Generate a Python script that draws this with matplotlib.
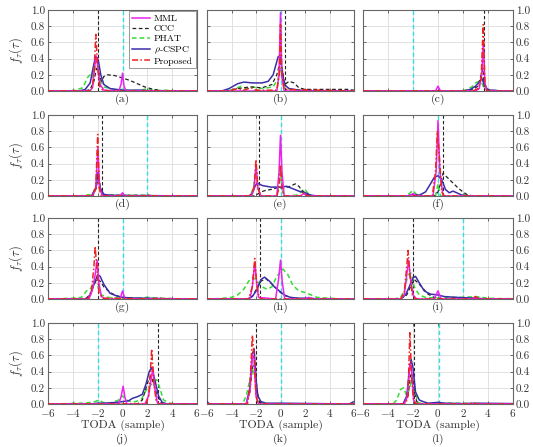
import matplotlib
matplotlib.use("Agg")
import matplotlib.pyplot as plt
import numpy as np

plt.rcParams['font.family'] = ['cmr10', 'DejaVu Serif']
plt.rcParams['mathtext.fontset'] = 'cm'
plt.rcParams['axes.formatter.use_mathtext'] = True
plt.rcParams['axes.unicode_minus'] = True

panels = ['a', 'b', 'c', 'd', 'e', 'f', 'g', 'h', 'i', 'j', 'k', 'l']
series_names = ['MML', 'CCC', 'PHAT', r'$\rho$-CSPC', 'Proposed']
x_ticks = [-6, -4, -2, 0, 2, 4, 6]
y_ticks = [0.0, 0.2, 0.4, 0.6, 0.8, 1.0]

true_tdoa = [-2.0, 0.33, 3.65, -1.67, -1.73, 0.37, -2.0, -1.7, -2.0, 2.85, -2.0, -1.95]
ref_tdoa = [0.0, 0.0, -2.0, 2.0, 0.0, 0.0, 0.0, 0.0, 2.0, -1.95, 0.0, 0.05]

# ---- panel (a)
a_mml = [(-6,0),(-2.6,0),(-2.4,0.05),(-2.25,0.3),(-2.1,0.43),(-1.95,0.25),(-1.8,0.08),(-1.5,0.01),(-0.3,0),(-0.12,0.08),(0,0.22),(0.12,0.06),(0.3,0),(6,0)]
a_ccc = [(-6,0),(-3,0),(-2.6,0.02),(-2.3,0.12),(-2.1,0.28),(-1.9,0.22),(-1.7,0.12),(-1.5,0.18),(-1.2,0.2),(-0.6,0.19),(0,0.16),(0.6,0.13),(1.2,0.09),(1.8,0.05),(2.5,0.02),(3.2,0.005),(6,0)]
a_phat = [(-6,0),(-4.5,0),(-3.8,0.01),(-3.2,0.04),(-2.8,0.17),(-2.6,0.2),(-2.4,0.17),(-2.2,0.3),(-2.05,0.38),(-1.85,0.15),(-1.5,0.05),(-1,0.03),(-0.5,0.01),(0,0.02),(0.5,0.005),(1.5,0.01),(2,0.03),(2.5,0.005),(3.5,0.01),(4.5,0),(6,0)]
a_cspc = [(-6,0),(-3.5,0),(-3,0.02),(-2.6,0.1),(-2.35,0.3),(-2.15,0.43),(-1.95,0.38),(-1.75,0.2),(-1.5,0.08),(-1,0.03),(0,0.01),(1.5,0.01),(2.5,0),(6,0)]
a_prop = [(-6,0),(-2.7,0),(-2.45,0.03),(-2.3,0.2),(-2.15,0.7),(-2.0,0.3),(-1.85,0.06),(-1.6,0.01),(-1,0),(6,0)]
# ---- panel (b)
b_mml = [(-6,0),(-0.3,0),(-0.12,0.2),(0,0.97),(0.1,0.2),(0.3,0),(6,0)]
b_ccc = [(-6,0),(-4.5,0),(-3.5,0.03),(-2.5,0.05),(-1.5,0.04),(-0.7,0.08),(-0.3,0.2),(-0.05,0.35),(0.15,0.25),(0.35,0.08),(0.7,0.12),(1.1,0.1),(1.5,0.04),(2,0.02),(3,0.02),(4.5,0.02),(5.5,0.02),(6,0.01)]
b_phat = [(-6,0),(-4.5,0),(-3.8,0.02),(-3.2,0.06),(-2.8,0.03),(-2.3,0.05),(-1.5,0.03),(-0.6,0.05),(-0.2,0.15),(0,0.3),(0.2,0.12),(0.5,0.03),(1.5,0.01),(3,0),(6,0)]
b_cspc = [(-6,0),(-4.8,0),(-4.2,0.03),(-3.5,0.09),(-3,0.11),(-2.3,0.1),(-1.5,0.1),(-1,0.12),(-0.6,0.2),(-0.2,0.42),(-0.05,0.44),(0.1,0.3),(0.3,0.08),(0.7,0.03),(1.5,0.01),(3,0),(6,0)]
b_prop = [(-6,0),(-4.2,0),(-3.5,0.03),(-3,0.01),(-2.4,0.04),(-2,0.01),(-0.3,0.01),(-0.1,0.2),(0,0.82),(0.12,0.2),(0.3,0.02),(6,0)]
# ---- panel (c)
c_mml = [(-6,0),(-0.2,0),(0,0.06),(0.2,0),(3.0,0),(3.3,0.03),(3.5,0.2),(3.62,0.6),(3.75,0.1),(3.9,0),(6,0)]
c_ccc = [(-6,0),(2.3,0),(2.8,0.02),(3.2,0.06),(3.45,0.2),(3.6,0.28),(3.7,0.05),(3.9,0.02),(4.5,0),(6,0)]
c_phat = [(-6,0),(1.5,0),(2.2,0.01),(2.7,0.05),(3.0,0.1),(3.3,0.12),(3.5,0.1),(3.7,0.03),(4.2,0),(6,0)]
c_cspc = [(-6,0),(2.0,0),(2.6,0.02),(3.0,0.06),(3.3,0.11),(3.5,0.16),(3.7,0.08),(4.0,0.01),(4.5,0.01),(5,0),(6,0)]
c_prop = [(-6,0),(2.8,0),(3.2,0.03),(3.45,0.15),(3.62,0.82),(3.75,0.1),(3.9,0),(6,0)]
# ---- panel (d)
d_mml = [(-6,0),(-2.4,0),(-2.15,0.1),(-1.98,0.6),(-1.85,0.1),(-1.6,0),(-0.2,0),(0,0.04),(0.2,0),(6,0)]
d_ccc = [(-6,0),(-2.4,0),(-2.1,0.1),(-1.95,0.3),(-1.8,0.1),(-1.5,0.01),(6,0)]
d_phat = [(-6,0),(-3.5,0),(-3,0.01),(-2.4,0.02),(-2.1,0.15),(-1.95,0.3),(-1.8,0.05),(-1.4,0.01),(0,0.01),(1.8,0.01),(2.0,0.02),(2.2,0.005),(3.5,0),(6,0)]
d_cspc = [(-6,0),(-2.5,0),(-2.15,0.1),(-1.97,0.28),(-1.8,0.1),(-1.5,0.02),(-1,0.01),(0,0.005),(2,0.005),(6,0)]
d_prop = [(-6,0),(-2.4,0),(-2.15,0.1),(-2.0,0.76),(-1.88,0.1),(-1.7,0),(1.8,0),(2,0.02),(2.2,0),(6,0)]
# ---- panel (e)
e_mml = [(-6,0),(-2.4,0),(-2.15,0.1),(-2.0,0.38),(-1.85,0.1),(-1.6,0),(-0.3,0),(-0.12,0.3),(0,0.75),(0.12,0.3),(0.3,0),(1.6,0),(1.9,0.03),(2.2,0),(6,0)]
e_ccc = [(-6,0),(-2.2,0),(-1.9,0.02),(-1.6,0.05),(-1.2,0.07),(-0.8,0.08),(-0.3,0.1),(0.3,0.1),(0.8,0.12),(1.2,0.15),(1.5,0.12),(1.8,0.06),(2.2,0.02),(2.6,0),(6,0)]
e_phat = [(-6,0),(-2.5,0),(-2.2,0.1),(-2.0,0.35),(-1.85,0.1),(-1.6,0),(-0.3,0),(-0.1,0.15),(0,0.35),(0.12,0.1),(0.3,0),(1.3,0.01),(1.7,0.05),(1.95,0.09),(2.2,0.04),(2.6,0),(6,0)]
e_cspc = [(-6,0),(-2.6,0),(-2.3,0.03),(-2.05,0.13),(-1.9,0.16),(-1.5,0.13),(-0.8,0.11),(0,0.11),(0.5,0.12),(1.0,0.09),(1.5,0.06),(2.0,0.04),(2.5,0.01),(3,0),(6,0)]
e_prop = [(-6,0),(-2.4,0),(-2.15,0.12),(-2.0,0.45),(-1.85,0.1),(-1.6,0),(-0.3,0),(-0.12,0.1),(0,0.38),(0.12,0.1),(0.3,0),(1.7,0),(1.9,0.04),(2.2,0),(6,0)]
# ---- panel (f)
f_mml = [(-6,0),(-2.3,0),(-2.0,0.03),(-1.7,0),(-0.4,0),(-0.15,0.3),(0,0.93),(0.15,0.3),(0.4,0),(6,0)]
f_ccc = [(-6,0),(-0.3,0),(0,0.05),(0.2,0.15),(0.4,0.28),(0.8,0.22),(1.2,0.16),(1.6,0.1),(2.0,0.05),(2.4,0.01),(3,0),(6,0)]
f_phat = [(-6,0),(-2.6,0),(-2.3,0.03),(-2.0,0.07),(-1.8,0.03),(-1.5,0),(-0.2,0),(0,0.15),(0.2,0),(1.8,0),(2.1,0.02),(2.4,0),(6,0)]
f_cspc = [(-6,0),(-2.5,0),(-2.0,0.02),(-1.5,0.01),(-1.0,0.05),(-0.6,0.15),(-0.3,0.23),(0,0.25),(0.3,0.2),(0.6,0.08),(0.9,0.04),(1.2,0.06),(1.5,0.04),(1.9,0.01),(2.5,0),(6,0)]
f_prop = [(-6,0),(-0.45,0),(-0.2,0.3),(-0.05,0.8),(0.1,0.5),(0.3,0.05),(0.5,0),(6,0)]
# ---- panel (g)
g_mml = [(-6,0),(-2.7,0),(-2.45,0.1),(-2.2,0.3),(-2.05,0.48),(-1.9,0.2),(-1.7,0.03),(-1.4,0),(-0.2,0),(0,0.1),(0.2,0),(6,0)]
g_ccc = [(-6,0),(-3,0),(-2.6,0.05),(-2.3,0.18),(-2.05,0.25),(-1.8,0.22),(-1.5,0.15),(-1.0,0.08),(-0.5,0.04),(0,0.02),(1,0.01),(2,0),(6,0)]
g_phat = [(-6,0),(-5,0.005),(-4,0.01),(-3.3,0.02),(-2.9,0.1),(-2.6,0.12),(-2.3,0.22),(-2.05,0.18),(-1.7,0.05),(-1.2,0.02),(0,0.01),(1,0.01),(2,0.02),(3,0.01),(4,0.005),(4.5,0),(6,0)]
g_cspc = [(-6,0),(-3,0),(-2.6,0.05),(-2.3,0.18),(-2.0,0.3),(-1.8,0.28),(-1.5,0.18),(-1.0,0.07),(-0.5,0.04),(0,0.02),(1,0.01),(2,0.01),(3,0.005),(6,0)]
g_prop = [(-6,0),(-2.8,0),(-2.5,0.1),(-2.3,0.4),(-2.2,0.65),(-2.05,0.35),(-1.9,0.08),(-1.6,0.01),(2.6,0),(2.9,0.02),(3.2,0),(6,0)]
# ---- panel (h)
h_mml = [(-6,0),(-2.5,0),(-2.3,0.15),(-2.1,0.45),(-1.95,0.2),(-1.8,0.02),(-0.4,0),(-0.15,0.25),(0,0.48),(0.15,0.2),(0.35,0),(2,0),(2.3,0.02),(2.6,0),(6,0)]
h_ccc = [(-6,0),(-2.6,0),(-2.2,0.05),(-1.9,0.15),(-1.6,0.22),(-1.2,0.25),(-0.8,0.2),(-0.4,0.14),(0,0.08),(0.4,0.04),(1,0.01),(2,0),(6,0)]
h_phat = [(-6,0),(-5,0.005),(-4,0.02),(-3.5,0.05),(-3,0.12),(-2.6,0.22),(-2.25,0.27),(-1.9,0.22),(-1.5,0.15),(-1.1,0.12),(-0.7,0.15),(-0.3,0.28),(0.2,0.37),(0.6,0.3),(1.0,0.17),(1.5,0.1),(2.0,0.08),(2.5,0.05),(3.0,0.02),(4,0.01),(5,0),(6,0)]
h_cspc = [(-6,0),(-2.7,0),(-2.3,0.03),(-1.9,0.12),(-1.6,0.24),(-1.3,0.27),(-0.9,0.22),(-0.5,0.15),(-0.1,0.1),(0.3,0.05),(0.8,0.02),(1.5,0.01),(2.5,0.01),(3,0),(6,0)]
h_prop = [(-6,0),(-2.6,0),(-2.3,0.15),(-2.1,0.5),(-1.95,0.2),(-1.75,0.02),(-1.5,0),(6,0)]
# ---- panel (i)
i_mml = [(-6,0),(-3,0),(-2.7,0.05),(-2.5,0.3),(-2.35,0.48),(-2.2,0.25),(-2.0,0.05),(-1.7,0),(-0.3,0),(0,0.1),(0.25,0),(6,0)]
i_ccc = [(-6,0),(-3,0),(-2.5,0.05),(-2.2,0.15),(-1.9,0.24),(-1.6,0.2),(-1.2,0.13),(-0.8,0.06),(-0.3,0.02),(0.3,0),(6,0)]
i_phat = [(-6,0),(-3.5,0),(-3,0.02),(-2.7,0.1),(-2.4,0.3),(-2.15,0.32),(-1.9,0.15),(-1.5,0.05),(-1,0.02),(0,0.01),(1,0.02),(2,0.02),(3,0.03),(4,0.01),(5,0.005),(6,0.005)]
i_cspc = [(-6,0),(-3,0),(-2.6,0.05),(-2.3,0.15),(-2.0,0.26),(-1.8,0.28),(-1.5,0.2),(-1.1,0.1),(-0.6,0.06),(0,0.05),(0.5,0.03),(1.5,0.02),(3,0.01),(4,0),(6,0)]
i_prop = [(-6,0),(-3,0),(-2.7,0.08),(-2.5,0.4),(-2.4,0.6),(-2.25,0.3),(-2.05,0.05),(-1.8,0),(2.7,0),(3.0,0.03),(3.3,0),(6,0)]
# ---- panel (j)
j_mml = [(-6,0),(-0.3,0),(-0.1,0.1),(0.05,0.22),(0.2,0.08),(0.35,0),(1.8,0),(2.1,0.1),(2.3,0.3),(2.45,0.45),(2.6,0.2),(2.8,0.02),(3.0,0),(6,0)]
j_ccc = [(-6,0),(1.2,0),(1.6,0.05),(1.9,0.2),(2.1,0.3),(2.3,0.35),(2.5,0.25),(2.8,0.1),(3.1,0.02),(3.5,0),(6,0)]
j_phat = [(-6,0),(-4.5,0),(-4,0.01),(-3,0.01),(-2.2,0.03),(-1.9,0.05),(-1.6,0.02),(-1,0.01),(-0.3,0.05),(0,0.1),(0.3,0.05),(0.8,0.02),(1.5,0.05),(2,0.2),(2.4,0.25),(2.75,0.3),(3.0,0.2),(3.3,0.05),(3.8,0.01),(4.5,0),(6,0)]
j_cspc = [(-6,0),(-2.5,0),(-2,0.01),(-1.5,0.01),(-0.5,0.02),(0,0.03),(0.5,0.04),(0.8,0.07),(1.2,0.09),(1.6,0.12),(1.9,0.25),(2.15,0.4),(2.35,0.45),(2.6,0.3),(2.9,0.1),(3.2,0.02),(3.6,0),(6,0)]
j_prop = [(-6,0),(1.9,0),(2.1,0.1),(2.25,0.4),(2.35,0.68),(2.5,0.3),(2.7,0.05),(2.9,0),(6,0)]
# ---- panel (k)
k_mml = [(-6,0),(-2.8,0),(-2.5,0.15),(-2.3,0.62),(-2.15,0.55),(-2.0,0.1),(-1.8,0),(6,0)]
k_ccc = [(-6,0),(-2.8,0),(-2.5,0.15),(-2.3,0.45),(-2.1,0.5),(-1.9,0.15),(-1.7,0.02),(-1.4,0),(6,0)]
k_phat = [(-6,0),(-3.1,0),(-2.8,0.1),(-2.5,0.3),(-2.25,0.45),(-2.0,0.25),(-1.8,0.05),(-1.5,0),(6,0)]
k_cspc = [(-6,0.03),(-5.8,0),(-2.8,0),(-2.5,0.2),(-2.3,0.62),(-2.15,0.68),(-2.0,0.3),(-1.85,0.1),(-1.6,0.03),(-1.2,0.01),(0,0.01),(3,0.005),(5.6,0),(6,0.03)]
k_prop = [(-6,0),(-2.7,0),(-2.5,0.2),(-2.3,0.85),(-2.15,0.6),(-2.0,0.1),(-1.8,0),(6,0)]
# ---- panel (l)
l_mml = [(-6,0),(-2.7,0),(-2.45,0.1),(-2.25,0.5),(-2.1,0.4),(-1.95,0.05),(-1.7,0),(6,0)]
l_ccc = [(-6,0),(-2.7,0),(-2.4,0.1),(-2.2,0.35),(-2.05,0.38),(-1.9,0.15),(-1.7,0.03),(-1.4,0),(6,0)]
l_phat = [(-6,0),(-3.6,0),(-3.3,0.05),(-3.0,0.18),(-2.75,0.2),(-2.5,0.1),(-2.25,0.2),(-2.05,0.35),(-1.85,0.15),(-1.6,0.02),(-1.2,0),(0,0.01),(1.5,0.01),(2,0.01),(3,0),(6,0)]
l_cspc = [(-6,0),(-2.8,0),(-2.5,0.1),(-2.3,0.4),(-2.15,0.55),(-2.0,0.45),(-1.8,0.15),(-1.5,0.05),(-1.2,0.03),(-0.8,0.01),(0,0.02),(0.5,0.01),(2,0.005),(3,0.01),(6,0.005)]
l_prop = [(-6,0),(-2.6,0),(-2.4,0.1),(-2.25,0.88),(-2.1,0.3),(-1.95,0.03),(-1.7,0),(2.5,0),(2.8,0.02),(3,0),(6,0)]

panel_data = {
    'a': [a_mml, a_ccc, a_phat, a_cspc, a_prop],
    'b': [b_mml, b_ccc, b_phat, b_cspc, b_prop],
    'c': [c_mml, c_ccc, c_phat, c_cspc, c_prop],
    'd': [d_mml, d_ccc, d_phat, d_cspc, d_prop],
    'e': [e_mml, e_ccc, e_phat, e_cspc, e_prop],
    'f': [f_mml, f_ccc, f_phat, f_cspc, f_prop],
    'g': [g_mml, g_ccc, g_phat, g_cspc, g_prop],
    'h': [h_mml, h_ccc, h_phat, h_cspc, h_prop],
    'i': [i_mml, i_ccc, i_phat, i_cspc, i_prop],
    'j': [j_mml, j_ccc, j_phat, j_cspc, j_prop],
    'k': [k_mml, k_ccc, k_phat, k_cspc, k_prop],
    'l': [l_mml, l_ccc, l_phat, l_cspc, l_prop],
}

styles = [
    dict(color='#ee22ee', ls='-', lw=1.1, zorder=4),
    dict(color='#222222', ls=(0, (3, 2)), lw=0.9, zorder=3),
    dict(color='#33dd33', ls=(0, (3, 2)), lw=1.1, zorder=2),
    dict(color='#3a2fa8', ls='-', lw=1.1, zorder=3.5),
    dict(color='#ee2222', ls=(0, (4, 1.5, 1, 1.5)), lw=1.1, zorder=5),
]

W, H = 533, 447
fig = plt.figure(figsize=(W / 100, H / 100), dpi=100)
col_left = [48, 207, 363]
col_w = [149, 147, 150]
row_bottom = [91, 196, 299, 404]
row_h = 81

grid_col = '#dddddd'
for idx, p in enumerate(panels):
    r, c = divmod(idx, 3)
    ax = fig.add_axes([col_left[c] / W, 1 - row_bottom[r] / H, col_w[c] / W, row_h / H])
    ax.set_xlim(-6, 6)
    ax.set_ylim(0, 1)
    ax.set_xticks(x_ticks)
    ax.set_yticks(y_ticks)
    ax.grid(True, color=grid_col, lw=0.6)
    ax.set_axisbelow(True)
    for s in ax.spines.values():
        s.set_color('#666666')
        s.set_linewidth(0.8)
    ax.tick_params(direction='in', length=2, width=0.5, top=True, right=True,
                   labelsize=8, colors='#333333', pad=2)
    ax.axvline(ref_tdoa[idx], color='#33dddd', ls=(0, (3, 2)), lw=1.0, zorder=1.5)
    ax.axvline(true_tdoa[idx], color='#222222', ls=(0, (3, 2)), lw=0.8, zorder=1.5)
    for name, pts, st in zip(series_names, panel_data[p], styles):
        xs = [q[0] for q in pts]
        ys = [q[1] for q in pts]
        ax.plot(xs, ys, label=name, **st)
    if c == 0:
        ax.yaxis.set_major_formatter(matplotlib.ticker.FormatStrFormatter('%.1f'))
        ax.set_ylabel(r'$f_\tau(\tau)$', fontsize=9, labelpad=4, color='#333333')
    elif c == 2:
        ax.yaxis.set_major_formatter(matplotlib.ticker.FormatStrFormatter('%.1f'))
        ax.tick_params(labelleft=False, labelright=True)
    else:
        ax.tick_params(labelleft=False)
    if r == 3:
        ax.set_xlabel('TODA (sample)', fontsize=8.5, labelpad=1, color='#333333')
        ax.text(0.5, -0.44, '(' + p + ')', transform=ax.transAxes, ha='center',
                va='center', fontsize=8.5, color='#333333')
    else:
        ax.tick_params(labelbottom=False)
        ax.text(0.5, -0.10, '(' + p + ')', transform=ax.transAxes, ha='center',
                va='center', fontsize=8.5, color='#333333')
    if idx == 0:
        leg = ax.legend(loc='upper right', fontsize=7, handlelength=1.8,
                        labelspacing=0.12, borderpad=0.3, handletextpad=0.4,
                        borderaxespad=0.15, fancybox=False, framealpha=1)
        leg.get_frame().set_edgecolor('#888888')
        leg.get_frame().set_linewidth(0.6)
        leg.set_zorder(10)

fig.savefig('out.png', dpi=100)
